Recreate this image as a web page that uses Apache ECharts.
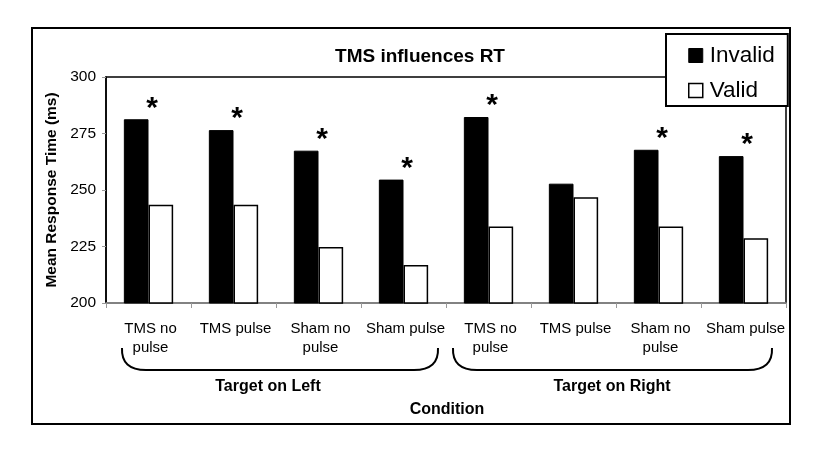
<!DOCTYPE html>
<html><head><meta charset="utf-8">
<script src="https://cdn.jsdelivr.net/npm/echarts@6/dist/echarts.min.js"></script>
<style>html,body{margin:0;padding:0;background:#fff}#c{width:831px;height:460px}</style>
</head><body><div id="c"></div>
<script>
var categories = ['TMS no\npulse','TMS pulse','Sham no\npulse','Sham pulse','TMS no\npulse','TMS pulse','Sham no\npulse','Sham pulse'];
var invalid = [281.3, 276.5, 267.4, 254.6, 282.3, 252.8, 267.8, 265.0];
var valid   = [243.5, 243.5, 224.8, 216.8, 233.9, 246.8, 233.9, 228.6];
var significant = [true, true, true, true, true, false, true, true];
var yTicks = [200, 225, 250, 275, 300];
var groups = ['Target on Left', 'Target on Right'];

function brace(x1, x2, yTop, yBot) {
  var st = {fill:null, stroke:'#000', lineWidth:2};
  return [
    {type:'bezierCurve', shape:{x1:x1, y1:yTop, x2:x1+24, y2:yBot, cpx1:x1-1, cpy1:yBot}, style:st},
    {type:'line', shape:{x1:x1+24, y1:yBot, x2:x2-24, y2:yBot}, style:st},
    {type:'bezierCurve', shape:{x1:x2-24, y1:yBot, x2:x2, y2:yTop, cpx1:x2+1, cpy1:yBot}, style:st}
  ];
}

var chart = echarts.init(document.getElementById('c'), null, {renderer:'canvas'});
var F = 'Arial, "Liberation Sans", sans-serif';
var N = '"Liberation Sans Narrow", Arial, sans-serif';
chart.setOption({
  animation:false,
  backgroundColor:'#fff',
  title:{text:'TMS influences RT', left:415, top:42, textAlign:'center',
    textStyle:{fontFamily:N, fontWeight:'bold', fontSize:19, color:'#000'}},
  legend:{orient:'vertical', left:666, top:34, icon:'rect', itemWidth:14, itemHeight:14, itemGap:12,
    backgroundColor:'#fff', borderColor:'#000', borderWidth:2, padding:[10,13,4,22],
    textStyle:{fontFamily:N, fontSize:22.5, color:'#000', padding:[0,0,0,2]},
    data:[{name:'Invalid', itemStyle:{color:'#000', borderColor:'#000', borderWidth:1}},
          {name:'Valid', itemStyle:{color:'#fff', borderColor:'#000', borderWidth:1.5}}]},
  grid:{left:106, top:77, right:45, bottom:157, show:true, borderColor:'#000', borderWidth:1.5, backgroundColor:'#fff'},
  xAxis:{type:'category', data:categories,
    axisLine:{lineStyle:{color:'#999', width:1.5}},
    axisTick:{show:true, length:5, lineStyle:{color:'#999'}},
    axisLabel:{fontFamily:F, fontSize:15, color:'#000', lineHeight:19, margin:16, interval:0, padding:[0,0,0,4]}},
  yAxis:{type:'value', min:200, max:300, interval:25,
    name:'Mean Response Time (ms)', nameLocation:'middle', nameGap:43, nameRotate:90,
    nameTextStyle:{fontFamily:F, fontWeight:'bold', fontSize:15.5, color:'#000'},
    axisLine:{show:true, lineStyle:{color:'#000', width:1.5}},
    axisTick:{show:true, length:4, lineStyle:{color:'#999'}},
    splitLine:{show:false},
    axisLabel:{fontFamily:F, fontSize:15.5, color:'#000', margin:10,
      formatter:function(v){return yTicks.indexOf(v)>=0 ? String(v) : '';}}},
  series:[
    {name:'Invalid', type:'bar', data:invalid, barGap:'0%', barCategoryGap:'42%',
     itemStyle:{color:'#000', borderColor:'#000', borderWidth:1},
     label:{show:true, position:'top', offset:[16,9], fontFamily:F, fontWeight:'bold', fontSize:30, color:'#000',
       formatter:function(p){return significant[p.dataIndex] ? '*' : '';}}},
    {name:'Valid', type:'bar', data:valid,
     itemStyle:{color:'#fff', borderColor:'#000', borderWidth:1.5}}
  ],
  graphic:[
    {type:'rect', shape:{x:32, y:28, width:758, height:396}, style:{fill:null, stroke:'#000', lineWidth:2}, z:-1}
  ].concat(brace(122, 438, 348, 370)).concat(brace(453, 772, 348, 370)).concat([
    {type:'text', x:268, y:379, style:{text:groups[0], font:'bold 16px ' + N, fill:'#000', textAlign:'center'}},
    {type:'text', x:612, y:379, style:{text:groups[1], font:'bold 16px ' + N, fill:'#000', textAlign:'center'}},
    {type:'text', x:447, y:402, style:{text:'Condition', font:'bold 16px ' + N, fill:'#000', textAlign:'center'}}
  ])
});
</script></body></html>
